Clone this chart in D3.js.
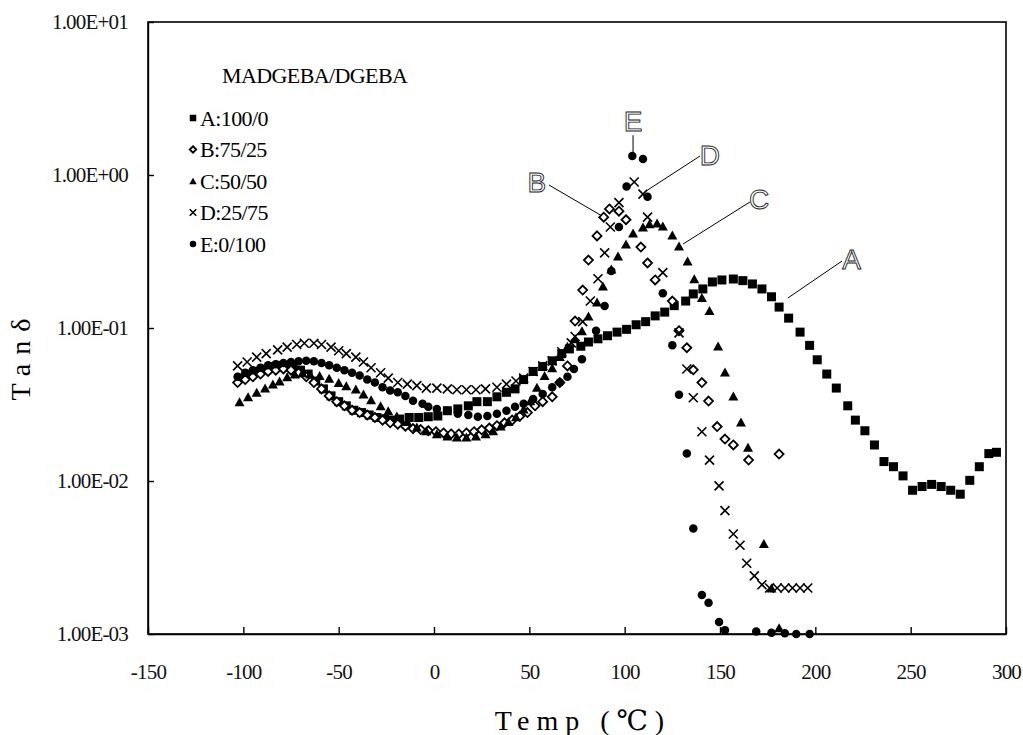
<!DOCTYPE html>
<meta charset="utf-8">
<style type="text/css">
body {
  margin: 0;
  background: #fff;
}
.axis path, .axis line {
  stroke: #000;
  stroke-width: 1.4px;
}
.leader {
  stroke: #000;
  stroke-width: 1px;
}
</style>
<body>
<div id="chart"></div>
<script src="https://cdnjs.cloudflare.com/ajax/libs/d3/7.8.5/d3.min.js"></script>
<script>

var serif = "'Liberation Serif', 'DejaVu Serif', 'Times New Roman', serif";

// tan delta vs temperature, [T (C), tan d]
var seriesA = [[-102,0.047],[-98,0.050],[-94,0.052],[-90,0.054],[-86,0.056],[-82,0.057],[-78,0.057],[-74,0.056],
  [-70,0.053],[-66,0.050],[-62,0.045],[-58,0.040],[-54,0.036],[-50,0.033],[-46,0.031],[-42,0.029],[-38,0.028],
  [-34,0.027],[-30,0.026],[-26,0.0255],[-22,0.025],[-18,0.0254],[-13,0.026],[-8,0.026],[-3,0.0263],[2,0.0266],
  [7,0.0288],[12.5,0.0296],[18,0.031],[22.5,0.033],[28,0.033],[33,0.0355],[38,0.038],[42.5,0.040],[47,0.046],
  [52,0.052],[57,0.056],[62,0.061],[67,0.068],[71,0.073],[77,0.076],[81,0.081],[86,0.085],[91,0.089],[96,0.094],
  [101,0.098],[106,0.105],[111,0.11],[116,0.12],[121,0.127],[126,0.14],[132,0.15],[136,0.167],[141,0.18],
  [146,0.2],[151,0.206],[157,0.209],[162,0.204],[167,0.194],[172,0.18],[177,0.16],[181,0.137],[186,0.116],
  [192,0.094],[197,0.077],[201,0.062],[206,0.050],[211,0.0405],[217,0.031],[221,0.025],[226,0.0213],[231,0.0172],
  [236,0.0134],[241,0.0124],[246,0.0108],[251,0.0087],[256,0.0092],[261,0.0095],[266,0.0092],[271,0.0087],
  [276,0.0082],[281,0.0101],[286,0.0124],[291,0.0151],[295,0.0154]];

var seriesB = [[-103,0.044],[-99,0.046],[-95,0.048],[-91,0.050],[-87,0.052],[-83,0.053],[-79,0.054],[-75,0.053],
  [-71,0.051],[-67,0.048],[-63,0.044],[-59,0.040],[-55,0.036],[-51,0.033],[-47,0.031],[-43,0.029],[-39,0.028],
  [-35,0.027],[-31,0.026],[-27,0.025],[-23,0.024],[-19,0.0235],[-15,0.0228],[-11,0.022],[-7,0.0217],[-3,0.0213],
  [1,0.021],[5,0.0206],[9,0.0203],[13,0.0203],[17,0.0206],[21,0.021],[25,0.0216],[29,0.0222],[33,0.023],
  [37,0.024],[41,0.025],[45,0.0265],[49,0.028],[53,0.031],[57,0.033],[62,0.0355],[66,0.044],[70,0.0565],
  [74,0.111],[78,0.177],[81,0.278],[85.5,0.40],[89,0.53],[92,0.60],[97,0.58],[100.7,0.51],[108.5,0.338],
  [112,0.266],[116,0.206],[125,0.15],[128.5,0.096],[132.6,0.0743],[136,0.0533],[140.5,0.044],[144,0.0333],
  [148.5,0.0227],[152.6,0.0188],[157,0.0172],[165,0.0137],[181,0.015]];

var seriesC = [[-102,0.033],[-97.5,0.0355],[-93,0.038],[-88.6,0.0405],[-84.5,0.043],[-81,0.045],[-77,0.048],
  [-73,0.050],[-69,0.051],[-65,0.050],[-60,0.049],[-55,0.047],[-50,0.044],[-46,0.042],[-41,0.040],[-37,0.037],
  [-33,0.034],[-28,0.031],[-24,0.0288],[-19.5,0.0266],[-14,0.0245],[-9,0.0225],[-4,0.0213],[1.5,0.0204],
  [7,0.0197],[12,0.0194],[17,0.0194],[22,0.0197],[27,0.0204],[31,0.0213],[35,0.0229],[39,0.0245],[43,0.0263],
  [47,0.0296],[50.5,0.0334],[54,0.041],[58,0.049],[62,0.055],[66,0.065],[70,0.076],[74,0.085],[77.6,0.096],
  [81,0.12],[85.5,0.148],[88.6,0.188],[93,0.243],[96.5,0.296],[100.7,0.354],[104.4,0.418],[109.6,0.457],
  [113,0.48],[117,0.485],[120,0.464],[125,0.405],[128.5,0.344],[133,0.274],[136.5,0.21],[140.5,0.158],
  [144.5,0.13],[149,0.0763],[152.6,0.0515],[157,0.0359],[161,0.0243],[164.7,0.0166],[173,0.0039],
  [177,0.0020],[181,0.0011]];

var seriesD = [[-103,0.0565],[-98,0.060],[-93,0.0645],[-88,0.068],[-82,0.072],[-77,0.075],[-72,0.078],
  [-68,0.0795],[-63,0.0795],[-59,0.078],[-54,0.075],[-50,0.071],[-46,0.068],[-41,0.0645],[-37,0.060],
  [-33,0.055],[-28,0.051],[-24,0.047],[-19,0.044],[-14,0.043],[-9,0.042],[-4,0.0405],[1.5,0.0405],[7,0.040],
  [12,0.0395],[17,0.0395],[22,0.0395],[27,0.040],[33,0.041],[38,0.043],[43,0.045],[47,0.047],[52,0.052],
  [57,0.0565],[62,0.061],[67,0.070],[72,0.080],[74,0.088],[78,0.11],[82,0.15],[86,0.21],[89.5,0.31],
  [92.5,0.457],[97,0.66],[105,0.9],[109.6,0.75],[112,0.53],[120,0.23],[128.5,0.093],[132.6,0.054],
  [136,0.035],[140.5,0.021],[144.5,0.0137],[149.5,0.0093],[152.6,0.0064],[157,0.0045],[160.5,0.0038],
  [164,0.0029],[168,0.0024],[172,0.0021],[176,0.002],[180,0.002],[184,0.002],[188,0.002],[192,0.002],[196,0.002]];

var seriesE = [[-103,0.048],[-99,0.051],[-95,0.053],[-91,0.055],[-87,0.057],[-83,0.058],[-79,0.059],
  [-75,0.060],[-71,0.0607],[-67,0.061],[-63,0.0607],[-59,0.059],[-55,0.057],[-51,0.055],[-47,0.053],
  [-43,0.051],[-39,0.049],[-35,0.046],[-31,0.044],[-27,0.041],[-23,0.039],[-19,0.038],[-15,0.036],
  [-11,0.0334],[-6,0.032],[-3,0.0306],[1.5,0.0296],[7,0.0288],[12.5,0.0275],[18,0.027],[23,0.0263],
  [28,0.0266],[33,0.0275],[38,0.0288],[42.5,0.0306],[47,0.032],[52,0.0344],[57,0.037],[62,0.041],[66,0.044],
  [70,0.048],[73.4,0.054],[77.6,0.0625],[85,0.096],[89.5,0.139],[93,0.236],[97,0.457],[101,0.84],[104,1.33],
  [109.6,1.27],[112,0.72],[120,0.169],[125,0.077],[128.5,0.0366],[132.6,0.0151],[136,0.0049],[140.5,0.0018],
  [144,0.0016],[149.5,0.0012],[152.6,0.00106],[169,0.00104],[177,0.00102],[184,0.00101],[190,0.001],[197,0.001]];

var legendLabels = ["A:100/0", "B:75/25", "C:50/50", "D:25/75", "E:0/100"];
var xTicks = [-150, -100, -50, 0, 50, 100, 150, 200, 250, 300];
var yTicks = [1e-3, 1e-2, 1e-1, 1, 10];
var yTickLabels = ["1.00E-03", "1.00E-02", "1.00E-01", "1.00E+00", "1.00E+01"];

// curve labels: letter at [T, v], leader from [T, v] to [T, v]
var noteText = ["E", "B", "D", "C", "A"];
var notePos = [[104.4, 2.25], [54, 0.90], [144.7, 1.35], [170.5, 0.70], [219, 0.283]];
var noteFrom = [[104.4, 1.82], [60.3, 0.86], [139.5, 1.33], [165.7, 0.666], [214, 0.274]];
var noteTo = [[104.4, 1.40], [88.1, 0.54], [112.2, 0.80], [130.6, 0.354], [185.6, 0.157]];

var width = 1023, height = 735;
var margin = {top: 22, right: 17, bottom: 101, left: 148};

var svg = d3.select("#chart").append("svg")
  .attr("width", width)
  .attr("height", height);

var x = d3.scaleLinear().domain([-150, 300]).range([margin.left, width - margin.right]);
var y = d3.scaleLog().domain([1e-3, 10]).range([height - margin.bottom, margin.top]);

// axes, ticks pointing in
svg.append("g")
  .attr("class", "axis")
  .attr("transform", "translate(0," + (height - margin.bottom) + ")")
  .call(d3.axisBottom(x).tickValues(xTicks).tickSize(-7).tickSizeOuter(0).tickPadding(30)
    .tickFormat(function(d) { return String(d); }))
  .call(function(g) { g.selectAll(".tick text").attr("dy", "0.71em"); });

svg.append("g")
  .attr("class", "axis")
  .attr("transform", "translate(" + margin.left + ",0)")
  .call(d3.axisLeft(y).tickValues(yTicks).tickSize(-6).tickSizeOuter(0).tickPadding(20)
    .tickFormat(function(d, i) { return yTickLabels[i]; }));

svg.selectAll(".axis .tick text")
  .style("font-family", serif)
  .style("font-size", "21px")
  .style("letter-spacing", "-0.8px")
  .style("fill", "#111");

// frame
svg.append("rect")
  .attr("x", x(-150)).attr("y", y(10))
  .attr("width", x(300) - x(-150)).attr("height", y(1e-3) - y(10))
  .attr("fill", "none").attr("stroke", "#000").attr("stroke-width", 1.6);

// axis titles
svg.append("text")
  .attr("transform", "translate(" + 30 + "," + ((y(10) + y(1e-3)) / 2 + 27) + ") rotate(-90)")
  .attr("text-anchor", "middle")
  .style("font-family", serif)
  .style("font-size", "28px")
  .style("letter-spacing", "9px")
  .text("Tanδ");

svg.append("text")
  .attr("x", x(75) + 6).attr("y", 730)
  .attr("text-anchor", "middle")
  .style("font-family", serif)
  .style("font-size", "28px")
  .style("letter-spacing", "7px")
  .text("Temp (℃)");

// marker painters
function drawMarker(sel, kind, s) {
  if (kind === "square") {
    sel.append("rect").attr("x", -s / 2).attr("y", -s / 2).attr("width", s).attr("height", s).attr("fill", "#000");
  } else if (kind === "diamond") {
    var h = s / 2;
    sel.append("path").attr("d", "M0," + (-h) + "L" + h + ",0L0," + h + "L" + (-h) + ",0Z")
      .attr("fill", "#fff").attr("stroke", "#000").attr("stroke-width", 1.8);
  } else if (kind === "triangle") {
    var h2 = s / 2;
    sel.append("path").attr("d", "M0," + (-h2) + "L" + (h2 + 0.5) + "," + h2 + "L" + (-h2 - 0.5) + "," + h2 + "Z")
      .attr("fill", "#000");
  } else if (kind === "cross") {
    var c = s / 2;
    sel.append("path").attr("d", "M" + (-c) + "," + (-c) + "L" + c + "," + c + "M" + c + "," + (-c) + "L" + (-c) + "," + c)
      .attr("stroke", "#000").attr("stroke-width", 1.6).attr("fill", "none");
  } else {
    sel.append("circle").attr("r", s / 2).attr("fill", "#000");
  }
}

var series = [
  {data: seriesA, kind: "square", size: 9},
  {data: seriesB, kind: "diamond", size: 9},
  {data: seriesC, kind: "triangle", size: 9},
  {data: seriesD, kind: "cross", size: 9},
  {data: seriesE, kind: "circle", size: 8.5}
];

var plot = svg.append("g");
series.forEach(function(s) {
  plot.append("g").selectAll("g")
    .data(s.data)
    .enter().append("g")
    .attr("transform", function(d) { return "translate(" + x(d[0]) + "," + y(d[1]) + ")"; })
    .each(function() { drawMarker(d3.select(this), s.kind, s.size); });
});

// legend
var legend = svg.append("g");
legend.append("text").attr("x", 222).attr("y", 83)
  .style("font-family", serif).style("font-size", "22px").style("letter-spacing", "-0.6px")
  .text("MADGEBA/DGEBA");
legendLabels.forEach(function(lab, i) {
  var row = legend.append("g").attr("transform", "translate(0," + (118 + i * 31.5) + ")");
  row.append("g").attr("transform", "translate(193,0)").call(function(g) { drawMarker(g, series[i].kind, 6.5); });
  row.append("text").attr("x", 200).attr("y", 7.5)
    .style("font-family", serif).style("font-size", "22px").style("letter-spacing", "-0.6px")
    .text(lab);
});

// curve labels with leader lines
noteText.forEach(function(t, i) {
  svg.append("line").attr("class", "leader")
    .attr("x1", x(noteFrom[i][0])).attr("y1", y(noteFrom[i][1]))
    .attr("x2", x(noteTo[i][0])).attr("y2", y(noteTo[i][1]));
  svg.append("text")
    .attr("x", x(notePos[i][0])).attr("y", y(notePos[i][1]) + 10)
    .attr("text-anchor", "middle")
    .style("font-family", "'Liberation Sans', Arial, sans-serif")
    .style("font-size", "28px")
    .style("fill", "none")
    .style("stroke", "#222")
    .style("stroke-width", "0.9px")
    .text(t);
});

</script>
</body>
